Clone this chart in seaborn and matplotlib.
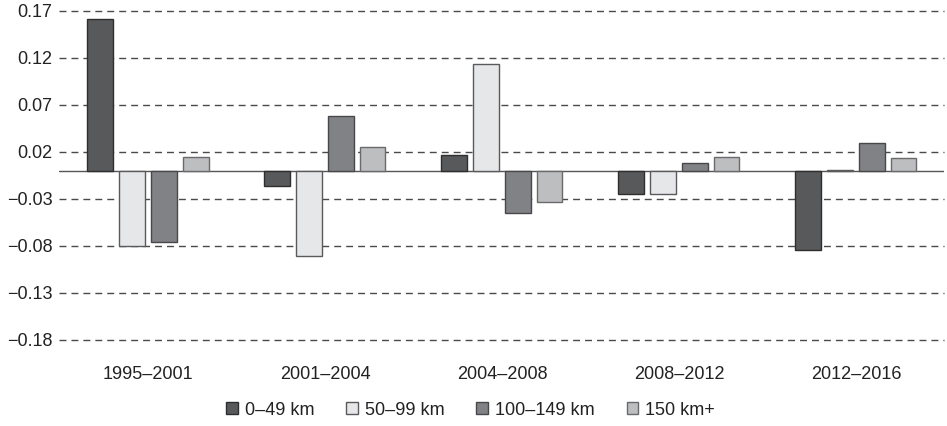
import pandas as pd
import matplotlib.pyplot as plt
import seaborn as sns
from matplotlib.patches import Patch

periods = ['1995–2001', '2001–2004', '2004–2008', '2008–2012', '2012–2016']
bands = ['0–49 km', '50–99 km', '100–149 km', '150 km+']

km_0_49 = [0.161, -0.016, 0.017, -0.025, -0.084]
km_50_99 = [-0.080, -0.091, 0.1135, -0.025, 0.001]
km_100_149 = [-0.0755, 0.0585, -0.045, 0.008, 0.030]
km_150_plus = [0.015, 0.0255, -0.033, 0.0145, 0.014]

y_ticks = [0.17, 0.12, 0.07, 0.02, -0.03, -0.08, -0.13, -0.18]

# long format for seaborn
rows = []
for band, vals in zip(bands, [km_0_49, km_50_99, km_100_149, km_150_plus]):
    for p, v in zip(periods, vals):
        rows.append({'period': p, 'band': band, 'value': v})
df = pd.DataFrame(rows)

fills = ['#58595b', '#e6e7e8', '#808285', '#bcbec0']
edges = ['#2e2e2e', '#5a5a5c', '#48484a', '#6a6a6c']

sns.set_style('white')
plt.rcParams['font.family'] = ['Liberation Sans', 'DejaVu Sans']

fig = plt.figure(figsize=(9.47, 4.26), dpi=100)
ax = fig.add_axes([0.0628, 0.2019, 0.9345, 0.7723])

sns.barplot(data=df, x='period', y='value', hue='band', order=periods,
            hue_order=bands, palette=fills, width=0.72, gap=0.2,
            saturation=1, legend=False, ax=ax, zorder=3)

for cont, ec in zip(ax.containers, edges):
    for bar in cont:
        bar.set_edgecolor(ec)
        bar.set_linewidth(1.0)

ax.set_ylim(-0.18, 0.17)
ax.set_xlim(-0.5, 4.5)
ax.set_yticks(y_ticks)
ax.set_yticklabels([f'{t:.2f}'.replace('-', '\u2212') for t in y_ticks])
ax.yaxis.grid(True, color='#4a4a4a', linestyle=(0, (5, 3.6)), linewidth=1.0)
for gl in ax.get_ygridlines():
    gl.set_clip_on(False)
ax.axhline(0, color='#555555', linewidth=1.0, zorder=2)
ax.set_axisbelow(True)

for s in ax.spines.values():
    s.set_visible(False)
ax.tick_params(axis='both', length=0, labelsize=13, colors='#222222')
ax.tick_params(axis='y', pad=5)
ax.tick_params(axis='x', pad=19)
ax.set_xlabel('')
ax.set_ylabel('')

handles = [Patch(facecolor=f, edgecolor=e, linewidth=1.0) for f, e in zip(fills, edges)]
fig.legend(handles, bands, loc='center', bbox_to_anchor=(0.497, 0.037), ncol=4,
           frameon=False, fontsize=13, handlelength=0.65, handleheight=0.65,
           handletextpad=0.4, columnspacing=1.75, labelcolor='#222222')

fig.savefig('out.png', dpi=100)
